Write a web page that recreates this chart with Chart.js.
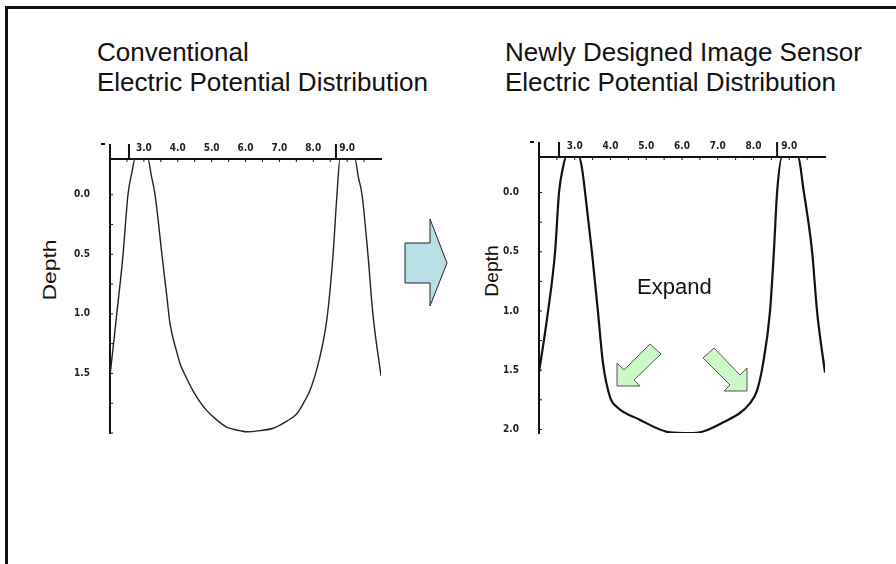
<!DOCTYPE html>
<html>
<head>
<meta charset="utf-8">
<script src="https://cdn.jsdelivr.net/npm/chart.js@4.4.1/dist/chart.umd.min.js"></script>
<style>
  html, body { margin: 0; padding: 0; background: #fff; }
  #page { position: relative; width: 896px; height: 564px; overflow: hidden;
          font-family: "Liberation Sans", Arial, sans-serif; color: #111; }
  #frame { position: absolute; left: 5px; top: 6px; right: -10px; bottom: -10px;
           border-left: 3px solid #111; border-top: 3px solid #111; }
  .title { position: absolute; top: 37px; font-size: 26px; line-height: 30px; white-space: nowrap; }
  .depth { position: absolute; width: 100px; height: 20px; line-height: 20px; font-size: 18px;
           text-align: center; white-space: nowrap; }
  #expand { position: absolute; left: 637px; top: 276px; font-size: 22px; line-height: 22px; }
  canvas { position: absolute; }
  svg { position: absolute; left: 0; top: 0; }
</style>
</head>
<body>
<div id="page">
  <div id="frame"></div>

  <div class="title" style="left:97px">Conventional<br>Electric Potential Distribution</div>
  <div class="title" style="left:505px">Newly Designed Image Sensor<br>Electric Potential Distribution</div>

  <div class="depth" style="left:0px;top:260px;transform:rotate(-90deg) scaleX(1.27)">Depth</div>
  <div class="depth" style="left:442px;top:261px;transform:rotate(-90deg) scaleX(1.07)">Depth</div>

  <canvas id="convChart" width="320" height="312" style="left:70px;top:128px"></canvas>
  <canvas id="newChart" width="335" height="312" style="left:500px;top:126px"></canvas>

  <div id="expand">Expand</div>

  <svg width="896" height="564">
    <!-- big arrow between the two plots -->
    <polygon points="405,243 430,243 430,219 447,263 430,306 430,283 405,283"
             fill="#b8dfe5" stroke="#222" stroke-width="1"/>
    <!-- "expand" arrows -->
    <polygon points="650,344 624,370 617,363 617,386 640,386 634,380 661,354"
             fill="#ccf7c6" stroke="#555" stroke-width="1"/>
    <polygon points="714,348 740,375 747,368 747,391 724,391 730,385 703,358"
             fill="#ccf7c6" stroke="#555" stroke-width="1"/>
  </svg>
</div>

<script>
// tick labels
const xTicks = [3.0, 4.0, 5.0, 6.0, 7.0, 8.0, 9.0];
const convTicksY = [0.0, 0.5, 1.0, 1.5];
const newTicksY = [0.0, 0.5, 1.0, 1.5, 2.0];

// conventional potential (position, depth)
const convX = [2.0, 2.2, 2.38, 2.53, 2.64, 2.74, 2.93, 3.12, 3.22, 3.33, 3.54, 3.68, 3.77, 3.98,
               4.07, 4.16, 4.26, 4.46, 4.66, 4.85, 5.15, 5.44, 5.84, 6.04, 6.43, 6.82, 7.22,
               7.51, 7.71, 7.86, 7.96, 8.11, 8.26, 8.41, 8.58, 8.70, 8.79, 9.0, 9.23, 9.33,
               9.44, 9.62, 9.76, 10.0];
const convY = [1.52, 1.0, 0.52, 0.0, -0.18, -0.3, -0.3, -0.3, -0.16, 0.0, 0.52, 0.86, 1.08, 1.33,
               1.42, 1.48, 1.54, 1.65, 1.74, 1.81, 1.89, 1.95, 1.98, 1.99, 1.98, 1.96, 1.9,
               1.84, 1.75, 1.67, 1.6, 1.46, 1.28, 1.03, 0.52, 0.0, -0.3, -0.3, -0.3, -0.15,
               0.0, 0.52, 1.0, 1.52];

// newly designed sensor potential
const newX = [2.0, 2.25, 2.45, 2.56, 2.67, 2.76, 2.94, 3.12, 3.2, 3.29, 3.48, 3.65, 3.79, 3.99,
              4.18, 4.83, 5.58, 6.03, 6.31, 7.15, 7.9, 8.1, 8.27, 8.46, 8.57, 8.66, 8.8, 9.02,
              9.24, 9.41, 9.64, 9.78, 10.0];
const newY = [1.52, 1.01, 0.5, 0.0, -0.21, -0.3, -0.3, -0.3, -0.21, 0.0, 0.5, 1.01, 1.44, 1.73,
              1.81, 1.92, 2.02, 2.03, 2.03, 1.94, 1.78, 1.67, 1.44, 1.01, 0.5, 0.0, -0.3, -0.3,
              -0.3, 0.0, 0.5, 1.01, 1.52];

// short vertical bars above the top axis
const convMarkers = [2.56, 8.67];
const newMarkers = [2.56, 8.66];

const tickFont = { family: "'Liberation Sans Narrow', 'DejaVu Sans Condensed', sans-serif", size: 10, weight: 'bold' };

// axis extension, marker bars and small inward ticks
const decor = {
  id: 'decor',
  afterDraw(chart, args, o) {
    const { ctx, chartArea: a, scales: { x, y } } = chart;
    ctx.save();
    ctx.strokeStyle = '#111';
    ctx.lineWidth = 2;
    ctx.beginPath();
    ctx.moveTo(a.left, a.top);
    ctx.lineTo(a.left, a.top - o.rise);
    ctx.moveTo(a.left - 9, a.top - o.rise);
    ctx.lineTo(a.left - 5, a.top - o.rise);
    o.markers.forEach(v => {
      const px = x.getPixelForValue(v);
      ctx.moveTo(px, a.top);
      ctx.lineTo(px, a.top - o.rise);
    });
    ctx.stroke();

    ctx.lineWidth = 1;
    ctx.beginPath();
    for (let v = x.min + 0.5; v < x.max; v += 0.5) {
      const px = x.getPixelForValue(v);
      ctx.moveTo(px, a.top);
      ctx.lineTo(px, a.top + 3);
    }
    for (let v = 0; v <= y.max; v += 0.25) {
      const py = y.getPixelForValue(v);
      ctx.moveTo(a.left, py);
      ctx.lineTo(a.left + 3, py);
    }
    ctx.stroke();
    ctx.restore();
  }
};

function makeChart(id, xs, ys, yTicks, markers, cfg) {
  const ctx = document.getElementById(id).getContext('2d');
  return new Chart(ctx, {
    type: 'line',
    data: {
      datasets: [{
        data: xs.map((v, i) => ({ x: v, y: ys[i] })),
        borderColor: cfg.color,
        borderWidth: cfg.lineWidth,
        pointRadius: 0,
        fill: false,
        cubicInterpolationMode: 'monotone'
      }]
    },
    options: {
      responsive: false,
      animation: false,
      events: [],
      layout: { padding: { left: 0, top: 0, right: cfg.padRight, bottom: cfg.padBottom } },
      plugins: {
        legend: { display: false },
        tooltip: { enabled: false },
        decor: { markers: markers, rise: 15 }
      },
      scales: {
        x: {
          type: 'linear',
          position: 'top',
          min: 2,
          max: 10,
          afterBuildTicks: s => { s.ticks = xTicks.map(v => ({ value: v })); },
          afterFit: s => { s.height = cfg.axisHeight; s.paddingLeft = 0; s.paddingRight = 0; },
          grid: { display: true, drawOnChartArea: false, drawTicks: false },
          border: { display: true, color: '#111', width: 2 },
          ticks: { font: tickFont, color: '#222', padding: 5, maxRotation: 0,
                   callback: v => Number(v).toFixed(1) }
        },
        y: {
          type: 'linear',
          reverse: true,
          min: -0.3,
          max: cfg.yMax,
          afterBuildTicks: s => { s.ticks = yTicks.map(v => ({ value: v })); },
          afterFit: s => { s.width = cfg.axisWidth; s.paddingTop = 0; s.paddingBottom = 0; },
          grid: { display: true, drawOnChartArea: false, drawTicks: false },
          border: { display: true, color: '#111', width: 2 },
          ticks: { font: tickFont, color: '#222', padding: 20,
                   callback: v => Number(v).toFixed(1) }
        }
      }
    },
    plugins: [decor]
  });
}

makeChart('convChart', convX, convY, convTicksY, convMarkers,
  { color: '#222', lineWidth: 1.4, yMax: 2.0, axisWidth: 40, axisHeight: 31, padRight: 9, padBottom: 7 });
makeChart('newChart', newX, newY, newTicksY, newMarkers,
  { color: '#111', lineWidth: 2.2, yMax: 2.03, axisWidth: 39, axisHeight: 31, padRight: 10, padBottom: 5 });
</script>
</body>
</html>
